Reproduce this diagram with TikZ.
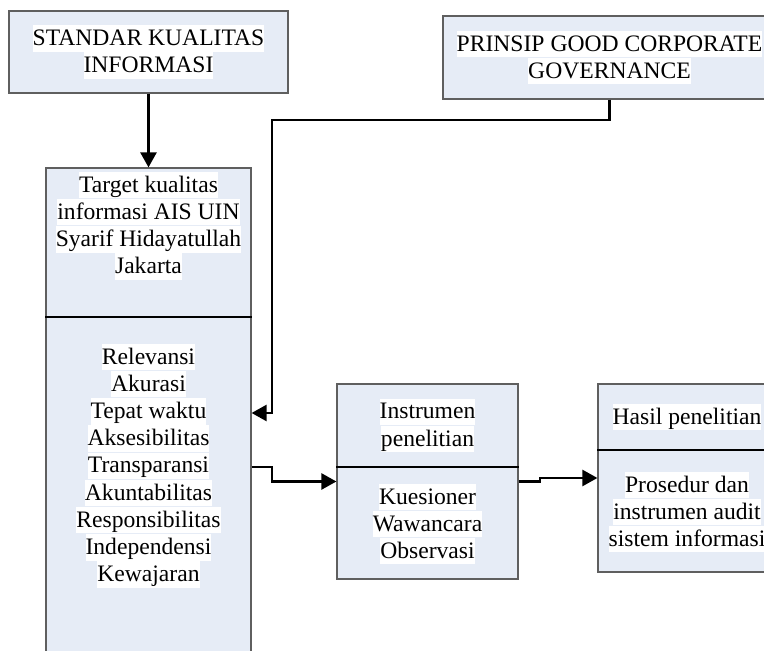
\documentclass[tikz,border=0pt]{standalone}
\usepackage{fontspec}
\setmainfont{Liberation Serif}
\usepackage{tikz}
\usetikzlibrary{arrows.meta,positioning}

\definecolor{boxfill}{RGB}{230,236,246}
\definecolor{boxline}{RGB}{95,95,95}
\newcommand{\wl}[1]{{\setlength{\fboxsep}{0pt}\colorbox{white}{\rule[-3pt]{0pt}{13.2pt}#1}}}

\begin{document}
\begin{tikzpicture}[
  x=1pt, y=1pt,
  b/.style={draw=boxline, fill=boxfill, line width=0.6pt, inner sep=0pt, align=center, font=\fontsize{11.8}{13.6}\selectfont},
  t/.style={inner sep=0pt, align=center, font=\fontsize{11.8}{13.6}\selectfont},
  dv/.style={line width=1pt},
  a/.style={-{Triangle[length=7.5pt,width=8pt]}, line width=1.25pt}
]
  \clip (0,0) rectangle (382,325.5);
  \node[b, minimum width=139.5pt, minimum height=41pt] (std) at (74.25,299.5) {\wl{STANDAR KUALITAS}\\\wl{INFORMASI}};
  \node[b, minimum width=166.5pt, minimum height=41.5pt] (gcg) at (304.75,296.75) {\wl{PRINSIP GOOD CORPORATE}\\\wl{GOVERNANCE}};

  % target box
  \node[b, minimum width=102.5pt, minimum height=251.5pt] (tgt) at (74.25,115.75) {};
  \coordinate (tgtD) at ([yshift=-75pt]tgt.north);
  \draw[dv] (tgtD -| tgt.west) -- (tgtD -| tgt.east);
  \node[t, below=2pt of tgt.north] (tgtA) {\wl{Target kualitas}\\\wl{informasi AIS UIN}\\\wl{Syarif Hidayatullah}\\\wl{Jakarta}};
  \node[t, below=13pt of tgtD] (tgtB) {\wl{Relevansi}\\\wl{Akurasi}\\\wl{Tepat waktu}\\\wl{Aksesibilitas}\\\wl{Transparansi}\\\wl{Akuntabilitas}\\\wl{Responsibilitas}\\\wl{Independensi}\\\wl{Kewajaran}};

  % instrumen
  \node[b, minimum width=90.5pt, minimum height=97.5pt] (ins) at (213.75,84.75) {};
  \draw[dv] ([yshift=-42pt]ins.north west) -- ([yshift=-42pt]ins.north east);
  \node[t] (insA) at ([yshift=-21pt]ins.north) {\wl{Instrumen}\\\wl{penelitian}};
  \node[t] (insB) at ([yshift=27.75pt]ins.south) {\wl{Kuesioner}\\\wl{Wawancara}\\\wl{Observasi}};

  % hasil
  \node[b, minimum width=89pt, minimum height=94pt] (has) at (343.5,86.5) {};
  \draw[dv] ([yshift=-33.5pt]has.north west) -- ([yshift=-33.5pt]has.north east);
  \node[t] (hasA) at ([yshift=-16.75pt]has.north) {\wl{Hasil penelitian}};
  \node[t] (hasB) at ([yshift=30.25pt]has.south) {\wl{Prosedur dan}\\\wl{instrumen audit}\\\wl{sistem informasi}};

  \coordinate (k1) at (136,265.5);
  \coordinate (k3) at (136,92);
  \coordinate (k4) at (270,84.75);
  \draw[a] (std.south) -- (tgt.north);
  \draw[a] (gcg.south) |- (k1) |- ([yshift=3.25pt]tgt.east);
  \draw[a] (tgt.east |- k3) -- (k3) |- (ins.west);
  \draw[a] (ins.east) -- (k4) |- (has.west);
\end{tikzpicture}
\end{document}
